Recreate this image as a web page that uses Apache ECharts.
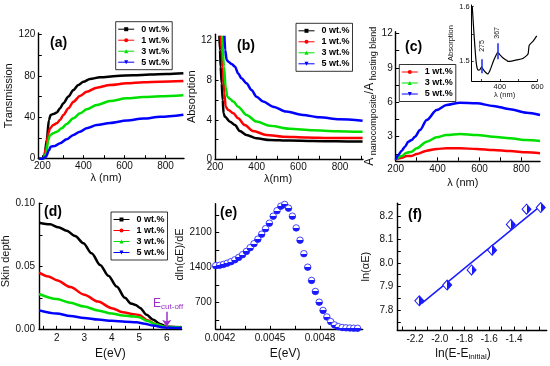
<!DOCTYPE html>
<html><head><meta charset="utf-8">
<script src="https://cdn.jsdelivr.net/npm/echarts@6/dist/echarts.min.js"></script>
<style>html,body{margin:0;padding:0;background:#fff}#c{width:550px;height:366px}</style>
</head><body><div id="c"></div>
<script>
// ---------- Panel (a): Transmission vs wavelength ----------
const aX0 = [183, 200, 210, 221, 232, 240, 253, 270, 286, 302, 327, 351, 375, 400, 432, 481, 562, 643, 725, 806, 887];
const aY0 = [0.5, 0.3, 1.9, 18, 37.4, 42.2, 43.2, 44.5, 48.7, 53.5, 60, 66.4, 71.2, 74.4, 77, 78.6, 79.9, 80.6, 81.2, 81.8, 82.5];
const aX1 = [183, 205, 218, 229, 237, 253, 270, 286, 302, 327, 351, 383, 416, 465, 530, 611, 692, 774, 887];
const aY1 = [0.5, 0, 10, 24.5, 29.4, 32.6, 34.2, 37.4, 42.2, 48.7, 55, 60.6, 64.7, 68.6, 71.2, 72.8, 73.8, 74.4, 75];
const aX3 = [183, 205, 218, 229, 237, 253, 270, 294, 318, 351, 383, 416, 465, 530, 611, 692, 774, 887];
const aY3 = [0.5, 0, 5.2, 18, 22.9, 24.5, 26, 29.4, 33.5, 39, 43.8, 47.7, 51.9, 55.7, 58.3, 59.5, 60.3, 61.3];
const aX5 = [183, 200, 217, 233, 240, 261, 286, 318, 351, 383, 416, 465, 530, 611, 692, 774, 887];
const aY5 = [0.3, 0, 1.9, 8.4, 11.6, 12.3, 14.9, 18.7, 22.9, 26.1, 29.4, 32.5, 34.5, 36.8, 38.8, 40.5, 42.5];
// ---------- Panel (b): Absorption vs wavelength ----------
const bX0 = [221, 224, 227, 232, 237, 241, 248, 272, 296, 319, 351, 399, 463, 558, 669, 781, 908];
const bY0 = [12.5, 11.06, 9.37, 7.69, 6.0, 4.65, 4.3, 3.8, 3.46, 2.86, 2.46, 2.12, 1.95, 1.89, 1.85, 1.82, 1.8];
const bX1 = [227, 232, 237, 245, 251, 264, 288, 311, 343, 383, 447, 526, 638, 749, 908];
const bY1 = [12.5, 11.06, 9.37, 6.67, 5.33, 5.0, 4.66, 4.15, 3.46, 2.86, 2.46, 2.29, 2.2, 2.15, 2.15];
const bX3 = [235, 243, 251, 259, 272, 288, 311, 351, 399, 463, 558, 669, 781, 908];
const bY3 = [12.5, 9.37, 7.35, 6.34, 6.1, 5.84, 5.33, 4.49, 3.82, 3.4, 3.1, 2.95, 2.85, 2.78];
const bX5 = [245, 249, 256, 264, 280, 296, 311, 327, 351, 375, 399, 431, 478, 542, 622, 701, 796, 908];
const bY5 = [12.5, 11.06, 10.05, 9.88, 9.64, 9.37, 8.69, 8.19, 7.69, 7.01, 6.34, 5.84, 5.33, 4.83, 4.49, 4.25, 4.05, 3.91];
// ---------- Panel (c): ratio A_nanocomposite / A_hosting blend ----------
const cX1 = [200, 229, 252, 276, 300, 348, 396, 443, 507, 587, 666, 746, 825, 889];
const cY1 = [1.0, 1.17, 1.32, 1.32, 1.49, 1.78, 1.93, 1.99, 1.99, 1.93, 1.84, 1.75, 1.64, 1.55];
const cX3 = [200, 229, 252, 276, 300, 348, 396, 443, 507, 587, 666, 746, 825, 889];
const cY3 = [1.0, 1.32, 1.6, 1.69, 1.99, 2.56, 2.95, 3.15, 3.24, 3.15, 3.0, 2.86, 2.71, 2.62];
const cX5 = [200, 212, 229, 244, 260, 276, 292, 316, 348, 396, 443, 507, 587, 666, 746, 825, 889];
const cY5 = [1.0, 1.4, 1.78, 2.13, 2.56, 2.71, 3.0, 3.58, 4.46, 5.33, 5.76, 5.96, 5.9, 5.68, 5.39, 5.09, 4.89];
// inset of (c)
const insX = [253, 262, 271, 277, 285, 294, 303, 312, 321, 335, 348, 365, 378, 389, 401, 419, 437, 445, 454, 490, 508, 525, 547, 552, 557, 579, 597];
const insY = [1.600, 1.551, 1.508, 1.490, 1.483, 1.484, 1.489, 1.484, 1.480, 1.476, 1.483, 1.499, 1.509, 1.516, 1.511, 1.505, 1.501, 1.499, 1.499, 1.502, 1.503, 1.505, 1.511, 1.515, 1.529, 1.537, 1.546];
const insPeakX = [306, 387];
const insPeakLabels = ['275', '367'];
// ---------- Panel (d): Skin depth vs E ----------
const dX0 = [1.36, 1.76, 2.06, 2.36, 2.67, 2.97, 3.27, 3.58, 3.88, 4.18, 4.48, 4.7, 4.87, 5.03, 5.27, 5.51, 5.76, 6.0, 6.55];
const dY0 = [0.0846, 0.0833, 0.081, 0.0783, 0.074, 0.0683, 0.0603, 0.051, 0.0425, 0.034, 0.025, 0.0205, 0.0193, 0.017, 0.0115, 0.0075, 0.0042, 0.002, 0.0016];
const dX1 = [1.36, 1.7, 2.0, 2.5, 3.0, 3.5, 4.0, 4.4, 4.8, 5.0, 5.3, 5.6, 5.9, 6.55];
const dY1 = [0.045, 0.042, 0.039, 0.0335, 0.0275, 0.022, 0.0168, 0.0135, 0.012, 0.0113, 0.0072, 0.004, 0.0021, 0.0015];
const dX3 = [1.36, 2.0, 2.5, 3.0, 3.5, 4.0, 4.4, 4.8, 5.0, 5.3, 5.6, 5.9, 6.55];
const dY3 = [0.028, 0.024, 0.021, 0.018, 0.015, 0.0125, 0.011, 0.0102, 0.0095, 0.0065, 0.004, 0.002, 0.0015];
const dX5 = [1.36, 2.0, 2.5, 3.0, 3.5, 4.0, 4.5, 4.9, 5.2, 5.5, 5.9, 6.55];
const dY5 = [0.015, 0.0125, 0.0105, 0.009, 0.0077, 0.0067, 0.006, 0.0055, 0.0045, 0.003, 0.0015, 0.001];
const cutoffE = 6.0;
// ---------- Panel (e): dln(aE)/dE vs E ----------
const eX = [0.004174, 0.004197, 0.004220, 0.004243, 0.004266, 0.004289, 0.004312, 0.004335, 0.004358, 0.004381,
            0.004404, 0.004427, 0.004450, 0.004473, 0.004496, 0.004519, 0.004542, 0.004565, 0.004588, 0.004611,
            0.004634, 0.004657, 0.004680, 0.004703, 0.004726, 0.004749, 0.004772, 0.004795, 0.004818, 0.004841,
            0.004864, 0.004887, 0.004910, 0.004933, 0.004956, 0.004979, 0.005002, 0.005025];
const eY = [1440, 1447, 1465, 1490, 1520, 1558, 1605, 1660, 1725, 1800,
            1880, 1970, 2070, 2180, 2290, 2430, 2540, 2630, 2665, 2590,
            2430, 2195, 1950, 1680, 1410, 1145, 925, 710, 545, 415,
            322, 255, 220, 203, 197, 193, 190, 188];
// ---------- Panel (f): ln(aE) vs ln(E-Einitial) ----------
const fX = [-2.165, -1.940, -1.743, -1.577, -1.426, -1.299, -1.184];
const fY = [7.839, 7.906, 7.970, 8.054, 8.163, 8.228, 8.235];
const fFitX = [-2.146, -1.178];
const fFitY = [7.828, 8.245];

const F = '"Liberation Sans", Arial, sans-serif';
const zip = (xs, ys) => xs.map((x, i) => [x, ys[i]]);
const COL = {'0 wt.%': '#000000', '1 wt.%': '#ff0000', '3 wt.%': '#00e000', '5 wt.%': '#0000ff'};
const SYM = {'0 wt.%': ['rect', 0], '1 wt.%': ['circle', 0], '3 wt.%': ['triangle', 0], '5 wt.%': ['triangle', 180]};
const BLUE = '#1a1aff';
const PURPLE = '#9b30c8';

function ls(name, gi, xs, ys, extra) {
  return Object.assign({
    type: 'line', name, xAxisIndex: gi, yAxisIndex: gi, data: zip(xs, ys),
    showSymbol: false, symbol: SYM[name][0], symbolRotate: SYM[name][1],
    lineStyle: {width: 2.5, color: COL[name]}, itemStyle: {color: COL[name]},
    smooth: 0.3, smoothMonotone: 'x', silent: true, animation: false
  }, extra || {});
}
function ax(gi, min, max, labels, ticks, fmt, name, gap, isY, extra) {
  const o = {
    type: 'value', gridIndex: gi, min, max, name, nameLocation: 'middle', nameGap: gap,
    nameTextStyle: {fontFamily: F, fontSize: 11, color: '#111'},
    axisLine: {show: true, onZero: false, lineStyle: {color: '#000', width: 1.4}},
    axisTick: {show: true, inside: true, length: 3.5, customValues: ticks, lineStyle: {color: '#000', width: 1}},
    axisLabel: {show: true, customValues: labels, formatter: fmt, fontFamily: F, fontSize: 10, color: '#111', margin: 3},
    splitLine: {show: false}, axisPointer: {show: false}
  };
  if (isY) o.nameRotate = 90;
  return Object.assign(o, extra || {});
}
function legend(names, left, top) {
  return {data: names, left, top, orient: 'vertical', itemWidth: 16, itemHeight: 5, itemGap: 0,
    padding: [2, 3, 2, 2], borderColor: '#000', borderWidth: 0.8, backgroundColor: '#fff',
    textStyle: {fontFamily: F, fontSize: 9, fontWeight: 'bold', color: '#000', lineHeight: 11, padding: [0, 0, 0, 2]},
    lineStyle: {width: 1}, selectedMode: false, z: 10};
}
const I = v => String(v);
const f1 = v => v.toFixed(1);
const f2 = v => v.toFixed(2);
const f4 = v => v.toFixed(4);
const range = (a, b, s) => { const r = []; for (let v = a; v <= b + 1e-12; v += s) r.push(+v.toFixed(6)); return r; };

const grids = [
  {left: 38.3, top: 33, width: 145.7, height: 125.7},
  {left: 215, top: 34.3, width: 148, height: 125},
  {left: 395.7, top: 31.7, width: 144.3, height: 129.1},
  {left: 39, top: 203.3, width: 142.7, height: 126},
  {left: 215.7, top: 203.7, width: 147, height: 125.6},
  {left: 397.3, top: 203.3, width: 149.4, height: 126.7},
  {left: 471.7, top: 5, width: 65.6, height: 76}
].map(g => Object.assign(g, {outerBoundsMode: 'none', containLabel: false}));

const richC = {
  a: {fontFamily: F, fontSize: 12, color: '#111', lineHeight: 15},
  s: {fontFamily: F, fontSize: 9, color: '#111', lineHeight: 9, verticalAlign: 'bottom'}
};
const richF = {
  a: {fontFamily: F, fontSize: 12, color: '#111', lineHeight: 15},
  s: {fontFamily: F, fontSize: 8, color: '#111', lineHeight: 8, verticalAlign: 'bottom'}
};
const smallAx = {
  axisLine: {show: true, onZero: false, lineStyle: {color: '#000', width: 1}},
  nameTextStyle: {fontFamily: F, fontSize: 7.5, color: '#111'},
};

const xAxis = [
  ax(0, 180, 890, [200, 400, 600, 800], range(200, 800, 100), I, 'λ (nm)', 12, false, {nameTextStyle: {fontFamily: F, fontSize: 11, color: '#111', padding: [0, 10, 0, 0]}}),
  ax(1, 200, 910, [200, 400, 600, 800], range(200, 900, 100), I, 'λ(nm)', 12, false, {nameTextStyle: {fontFamily: F, fontSize: 11, color: '#111', padding: [0, 22, 0, 0]}}),
  ax(2, 200, 889, [200, 400, 600, 800], range(200, 800, 100), I, 'λ (nm)', 17, false, {nameTextStyle: {fontFamily: F, fontSize: 11, color: '#111', padding: [0, 10, 0, 0]}}),
  ax(3, 1.356, 6.545, [2, 3, 4, 5, 6], range(1.5, 6.5, 0.5), I, 'E(eV)', 18, false, {nameTextStyle: {fontFamily: F, fontSize: 12, color: '#111'}, axisLabel: {customValues: [2, 3, 4, 5, 6], formatter: I, fontFamily: F, fontSize: 10, color: '#111', margin: 4}}),
  ax(4, 0.004174, 0.005056, [0.0042, 0.0045, 0.0048], [0.0042, 0.00435, 0.0045, 0.00465, 0.0048, 0.00495], f4, 'E(eV)', 18, false, {nameTextStyle: {fontFamily: F, fontSize: 12, color: '#111', padding: [0, 8, 0, 0]}, axisLabel: {customValues: [0.0042, 0.0045, 0.0048], formatter: f4, fontFamily: F, fontSize: 10, color: '#111', margin: 4}}),
  ax(5, -2.343, -1.136, [-2.2, -2.0, -1.8, -1.6, -1.4], range(-2.3, -1.2, 0.1), f1, '{a|ln(E-E}{s|initial}{a|)}', 16, false, {nameTextStyle: {rich: richF, padding: [0, 18, 0, 0]}, axisLabel: {customValues: [-2.2, -2.0, -1.8, -1.6, -1.4], formatter: f1, fontFamily: F, fontSize: 10, color: '#111', margin: 4}}),
  ax(6, 250, 600, [400, 600], [300, 400, 500, 600], I, 'λ (nm)', 9, false, Object.assign({}, smallAx, {axisTick: {show: true, inside: true, length: 2, customValues: [300, 400, 500, 600], lineStyle: {color: '#000', width: 0.8}}, axisLabel: {customValues: [400, 600], formatter: I, fontFamily: F, fontSize: 7.5, color: '#111', margin: 1.5}}))
];
const yAxis = [
  ax(0, 0, 121.4, [0, 40, 80, 120], range(0, 120, 20), I, 'Transmission', 21, true),
  ax(1, 0, 12.65, [0, 4, 8, 12], range(0, 12, 2), I, 'Absorption', 17, true),
  ax(2, 0.9, 12.14, [3, 6, 9, 12], range(1.5, 12, 1.5), I, '{a|A}{s| nanocomposite}{a|/A}{s| hosting blend}', 17, true, {nameTextStyle: {rich: richC}}),
  ax(3, 0, 0.1, [0, 0.05, 0.1], [0, 0.025, 0.05, 0.075, 0.1], f2, 'Skin depth', 20, true, {axisLabel: {customValues: [0, 0.05, 0.1], formatter: f2, fontFamily: F, fontSize: 10, color: '#111', margin: 4}, nameTextStyle: {fontFamily: F, fontSize: 11, color: '#111', padding: [0, 0, 0, 10]}}),
  ax(4, 168, 2680, [700, 1400, 2100], range(350, 2450, 350), I, 'dln(αE)/dE', 18, true, {axisLabel: {customValues: [700, 1400, 2100], formatter: I, fontFamily: F, fontSize: 10, color: '#111', margin: 4}, nameTextStyle: {fontFamily: F, fontSize: 11, color: '#111', padding: [0, 0, 0, 24]}}),
  ax(5, 7.715, 8.253, [7.8, 7.9, 8.0, 8.1, 8.2], range(7.75, 8.25, 0.05), f1, 'ln(αE)', 26, true, {axisLabel: {customValues: [7.8, 7.9, 8.0, 8.1, 8.2], formatter: f1, fontFamily: F, fontSize: 10, color: '#111', margin: 4}}),
  ax(6, 1.463, 1.603, [1.5, 1.6], [1.5, 1.55, 1.6], f1, 'Absorption', 10, true, Object.assign({}, smallAx, {axisTick: {show: true, inside: true, length: 2, customValues: [1.5, 1.55, 1.6], lineStyle: {color: '#000', width: 0.8}}, axisLabel: {customValues: [1.5, 1.6], formatter: f1, fontFamily: F, fontSize: 7.5, color: '#111', margin: 2}}))
];

const halfCircle = new echarts.graphic.LinearGradient(0, 0, 0, 1, [
  {offset: 0, color: '#ffffff'}, {offset: 0.5, color: '#ffffff'}, {offset: 0.5, color: BLUE}, {offset: 1, color: BLUE}]);
const halfDiamond = new echarts.graphic.LinearGradient(0, 0, 1, 0, [
  {offset: 0, color: '#ffffff'}, {offset: 0.5, color: '#ffffff'}, {offset: 0.5, color: BLUE}, {offset: 1, color: BLUE}]);

const series = [
  ls('0 wt.%', 0, aX0, aY0), ls('1 wt.%', 0, aX1, aY1), ls('3 wt.%', 0, aX3, aY3), ls('5 wt.%', 0, aX5, aY5),
  ls('0 wt.%', 1, bX0, bY0), ls('1 wt.%', 1, bX1, bY1), ls('3 wt.%', 1, bX3, bY3), ls('5 wt.%', 1, bX5, bY5),
  ls('1 wt.%', 2, cX1, cY1), ls('3 wt.%', 2, cX3, cY3), ls('5 wt.%', 2, cX5, cY5),
  ls('0 wt.%', 3, dX0, dY0), ls('1 wt.%', 3, dX1, dY1), ls('3 wt.%', 3, dX3, dY3),
  ls('5 wt.%', 3, dX5, dY5, {
    markLine: {silent: true, symbol: ['none', 'arrow'], symbolSize: 7, animation: false,
      lineStyle: {color: PURPLE, width: 1.5, type: 'solid'}, label: {show: false},
      data: [[{coord: [cutoffE, 0.014]}, {coord: [cutoffE, 0.0021]}]]},
    markPoint: {silent: true, symbol: 'circle', symbolSize: 0, animation: false,
      label: {show: true, position: 'inside', formatter: '{e|E}{s|cut-off}',
        rich: {e: {fontFamily: F, fontSize: 12, color: PURPLE, lineHeight: 14},
               s: {fontFamily: F, fontSize: 8, color: PURPLE, lineHeight: 8, verticalAlign: 'bottom'}}},
      data: [{coord: [cutoffE + 0.05, 0.0205], name: 'cut'}]}
  }),
  {type: 'scatter', name: 'e', xAxisIndex: 4, yAxisIndex: 4, data: zip(eX, eY), symbol: 'circle', symbolSize: 6.5,
   itemStyle: {color: halfCircle, borderColor: BLUE, borderWidth: 0.8, opacity: 1}, silent: true, animation: false},
  {type: 'line', name: 'fit', xAxisIndex: 5, yAxisIndex: 5, data: zip(fFitX, fFitY), showSymbol: false,
   lineStyle: {color: BLUE, width: 1.5}, silent: true, animation: false},
  {type: 'scatter', name: 'f', xAxisIndex: 5, yAxisIndex: 5, data: zip(fX, fY), symbol: 'diamond', symbolSize: [9, 10],
   itemStyle: {color: halfDiamond, borderColor: BLUE, borderWidth: 1, opacity: 1}, silent: true, animation: false, z: 3},
  {type: 'line', name: 'inset', xAxisIndex: 6, yAxisIndex: 6, data: zip(insX, insY), showSymbol: false, smooth: 0.2,
   lineStyle: {color: '#000', width: 1.2}, silent: true, animation: false,
   markLine: {silent: true, symbol: ['none', 'none'], animation: false, lineStyle: {color: '#2233ff', width: 1.6, type: 'solid'}, label: {show: false},
     data: [[{coord: [insPeakX[0], 1.4774]}, {coord: [insPeakX[0], 1.5031]}], [{coord: [insPeakX[1], 1.5031]}, {coord: [insPeakX[1], 1.5326]}]]},
   markPoint: {silent: true, symbol: 'circle', symbolSize: 0, animation: false,
     label: {show: true, position: 'inside', formatter: '{b}', rotate: 90, fontFamily: F, fontSize: 7, color: '#111'},
     data: [{coord: [insPeakX[0], 1.5276], name: insPeakLabels[0]}, {coord: [insPeakX[1], 1.5516], name: insPeakLabels[1]}]}
  }
];

const panelLabel = (t, l, tp) => ({type: 'text', left: l, top: tp, z: 20,
  style: {text: t, fontFamily: F, fontSize: 14, fontWeight: 'bold', fill: '#000'}});

const option = {
  animation: false,
  grid: grids, xAxis, yAxis, series,
  legend: [
    legend(['0 wt.%', '1 wt.%', '3 wt.%', '5 wt.%'], 115.7, 21.7),
    legend(['0 wt.%', '1 wt.%', '3 wt.%', '5 wt.%'], 296, 23.3),
    legend(['1 wt.%', '3 wt.%', '5 wt.%'], 399.3, 64.5),
    legend(['0 wt.%', '1 wt.%', '3 wt.%', '5 wt.%'], 111, 212)
  ],
  graphic: [
    panelLabel('(a)', 50, 36), panelLabel('(b)', 237, 39), panelLabel('(c)', 405, 40),
    panelLabel('(d)', 44, 205), panelLabel('(e)', 220, 206), panelLabel('(f)', 408, 208)
  ]
};
const chart = echarts.init(document.getElementById('c'), null, {renderer: 'canvas'});
chart.setOption(option);
</script></body></html>
